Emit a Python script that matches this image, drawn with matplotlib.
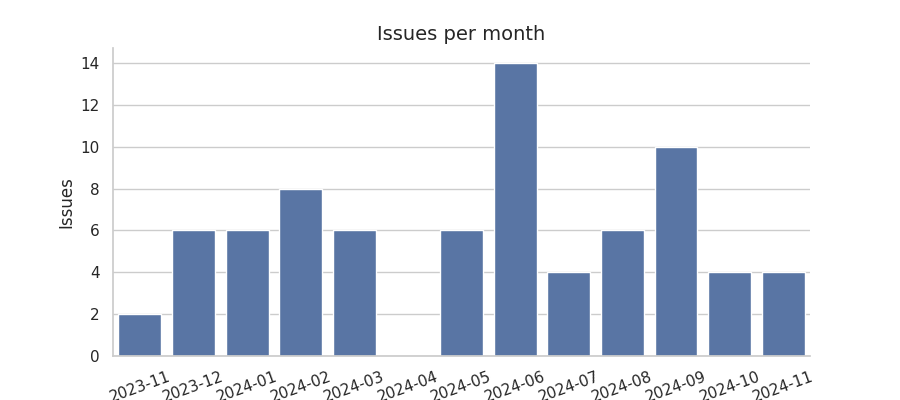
import matplotlib
matplotlib.use("Agg")
import matplotlib.pyplot as plt
import seaborn as sns

months = ["2023-11", "2023-12", "2024-01", "2024-02", "2024-03", "2024-04", "2024-05",
          "2024-06", "2024-07", "2024-08", "2024-09", "2024-10", "2024-11"]
issues = [2, 6, 6, 8, 6, 0, 6, 14, 4, 6, 10, 4, 4]

sns.set_theme(style="whitegrid")
fig = plt.figure(figsize=(9, 4), dpi=100)
ax = fig.add_axes([0.1256, 0.11, 0.7744, 0.769])
sns.barplot(x=months, y=issues, color="#4c72b0", ax=ax)
ax.set_title("Issues per month", fontsize=14)
ax.set_ylabel("Issues", fontsize=12)
ax.set_xlabel("")
ax.set_ylim(0, 14.7)
ax.set_yticks(range(0, 15, 2))
ax.tick_params(axis="x", rotation=20)
sns.despine(ax=ax)
fig.savefig("out.png", dpi=100)
